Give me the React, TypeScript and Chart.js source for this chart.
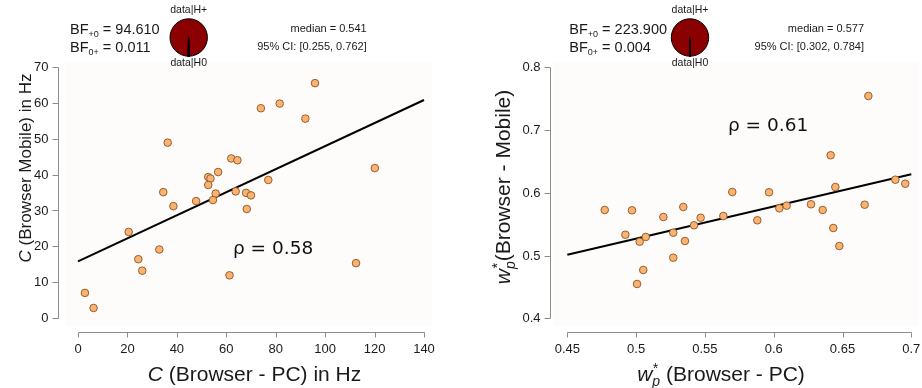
import React, { useEffect, useRef } from "react";
import { Chart, registerables } from "chart.js";

Chart.register(...registerables);

// ---- Cut-off frequency C (Hz): PC browser vs mobile browser ----
const pcC = [2.8, 6.3, 20.5, 24.4, 26.0, 32.9, 34.5, 36.3, 38.6, 47.8, 52.7, 53.6, 52.7, 55.7, 54.6, 56.7, 61.3, 62.0, 64.5, 63.8, 68.0, 70.0, 68.3, 77.0, 74.0, 81.6, 92.0, 95.9, 120.1, 112.5];
const mobileC = [7.0, 2.8, 24.0, 16.4, 13.2, 19.1, 35.1, 48.9, 31.2, 32.6, 39.3, 38.9, 37.1, 34.7, 32.9, 40.7, 11.9, 44.5, 44.0, 35.3, 34.9, 34.2, 30.4, 38.5, 58.5, 59.8, 55.6, 65.5, 41.8, 15.3];
const cFitX = [0, 140];
const cFitY = [15.8, 60.8];
const cTicksX = [0, 20, 40, 60, 80, 100, 120, 140];
const cTicksY = [0, 10, 20, 30, 40, 50, 60, 70];

// ---- Weight w*_p: PC browser vs mobile browser ----
const pcW = [0.4772, 0.4970, 0.4922, 0.5026, 0.5070, 0.5052, 0.5007, 0.5198, 0.5270, 0.5270, 0.5343, 0.5355, 0.5421, 0.5469, 0.5634, 0.5699, 0.5881, 0.5966, 0.6041, 0.6094, 0.6271, 0.6356, 0.6414, 0.6448, 0.6433, 0.6477, 0.6661, 0.6688, 0.6884, 0.6956];
const mobileW = [0.5726, 0.5721, 0.5332, 0.5221, 0.5296, 0.4770, 0.4547, 0.5614, 0.5364, 0.4966, 0.5774, 0.5232, 0.5482, 0.5603, 0.5630, 0.6013, 0.5562, 0.6008, 0.5753, 0.5795, 0.5817, 0.5726, 0.6598, 0.6092, 0.5439, 0.5152, 0.5810, 0.7543, 0.6209, 0.6145];
const wFitX = [0.45, 0.7];
const wFitY = [0.5014, 0.6295];
const wTicksX = [0.45, 0.5, 0.55, 0.6, 0.65, 0.7];
const wTickLabelsX = ["0.45", "0.5", "0.55", "0.6", "0.65", "0.7"];
const wTicksY = [0.4, 0.5, 0.6, 0.7, 0.8];
const wTickLabelsY = ["0.4", "0.5", "0.6", "0.7", "0.8"];

// ---- Bayesian correlation summaries ----
const bfC = [94.61, 0.011];
const rhoC = 0.58;
const medianC = 0.541;
const ciC = [0.255, 0.762];

const bfW = [223.9, 0.004];
const rhoW = 0.61;
const medianW = 0.577;
const ciW = [0.302, 0.784];

const SANS = '"Liberation Sans", Arial, Helvetica, sans-serif';
const DEJAVU = '"DejaVu Sans", sans-serif';
const INK = "#1a1a1a";
const AXIS = "#8c8c8c";

type Seg = { t: string; size: number; italic?: boolean; dy?: number; noAdvance?: boolean; family?: string };

function drawRich(ctx: CanvasRenderingContext2D, segs: Seg[], x: number, baseline: number, align: "left" | "center" | "right") {
  const font = (s: Seg) => `${s.italic ? "italic " : ""}${s.size}px ${s.family || SANS}`;
  let total = 0;
  segs.forEach((s) => {
    ctx.font = font(s);
    if (!s.noAdvance) total += ctx.measureText(s.t).width;
  });
  let cx = align === "left" ? x : align === "center" ? x - total / 2 : x - total;
  ctx.textAlign = "left";
  ctx.textBaseline = "alphabetic";
  segs.forEach((s) => {
    ctx.font = font(s);
    ctx.fillText(s.t, cx, baseline + (s.dy || 0));
    if (!s.noAdvance) cx += ctx.measureText(s.t).width;
  });
}

type Decor = {
  panel: [number, number, number, number];
  yAxisX: number;
  xAxisY: number;
  xTicks: number[];
  xLabels: string[];
  yTicks: number[];
  yLabels: string[];
  bf: number[];
  bfDigits: number;
  bfX: number;
  pieX: number;
  statRight: number;
  median: number;
  ci: number[];
  rho: number;
  rhoX: number;
  rhoY: number;
  xTitle: Seg[];
  xTitleX: number;
  yTitle: Seg[];
  yTitleX: number;
  yTitleY: number;
};

const decorPlugin = {
  id: "decor",
  beforeDatasetsDraw(chart: any, _a: any, opts: Decor) {
    const ctx = chart.ctx as CanvasRenderingContext2D;
    const [x0, y0, x1, y1] = opts.panel;
    ctx.save();
    ctx.fillStyle = "#fdfcfa";
    ctx.fillRect(x0, y0, x1 - x0, y1 - y0);
    ctx.restore();
  },
  afterDraw(chart: any, _a: any, opts: Decor) {
    const ctx = chart.ctx as CanvasRenderingContext2D;
    const xs = chart.scales.x;
    const ys = chart.scales.y;
    ctx.save();

    // axes: lines span first to last tick, offset from the panel
    ctx.strokeStyle = AXIS;
    ctx.lineWidth = 1;
    const yTop = ys.getPixelForValue(opts.yTicks[opts.yTicks.length - 1]);
    const yBot = ys.getPixelForValue(opts.yTicks[0]);
    ctx.beginPath();
    ctx.moveTo(opts.yAxisX, Math.round(yTop) + 0.5);
    ctx.lineTo(opts.yAxisX, Math.round(yBot) + 0.5);
    opts.yTicks.forEach((v) => {
      const p = Math.round(ys.getPixelForValue(v)) + 0.5;
      ctx.moveTo(opts.yAxisX, p);
      ctx.lineTo(opts.yAxisX - 6, p);
    });
    const xL = xs.getPixelForValue(opts.xTicks[0]);
    const xR = xs.getPixelForValue(opts.xTicks[opts.xTicks.length - 1]);
    ctx.moveTo(Math.round(xL) + 0.5, opts.xAxisY);
    ctx.lineTo(Math.round(xR) + 0.5, opts.xAxisY);
    opts.xTicks.forEach((v) => {
      const p = Math.round(xs.getPixelForValue(v)) + 0.5;
      ctx.moveTo(p, opts.xAxisY);
      ctx.lineTo(p, opts.xAxisY + 5);
    });
    ctx.stroke();

    ctx.fillStyle = INK;
    ctx.font = `13px ${SANS}`;
    ctx.textAlign = "right";
    ctx.textBaseline = "middle";
    opts.yTicks.forEach((v, i) => {
      ctx.fillText(opts.yLabels[i], opts.yAxisX - 10, ys.getPixelForValue(v) + 0.5);
    });
    ctx.textAlign = "center";
    opts.xTicks.forEach((v, i) => {
      ctx.fillText(opts.xLabels[i], xs.getPixelForValue(v), 349.5);
    });

    // axis titles
    drawRich(ctx, opts.xTitle, opts.xTitleX, 381, "center");
    ctx.save();
    ctx.translate(opts.yTitleX, opts.yTitleY);
    ctx.rotate(-Math.PI / 2);
    drawRich(ctx, opts.yTitle, 0, 7, "center");
    ctx.restore();

    // Bayes factors
    const bfS = 14.5;
    const subS = 9;
    drawRich(ctx, [
      { t: "BF", size: bfS },
      { t: "+0", size: subS, dy: 3 },
      { t: " = " + opts.bf[0].toFixed(opts.bfDigits), size: bfS },
    ], opts.bfX, 33.5, "left");
    drawRich(ctx, [
      { t: "BF", size: bfS },
      { t: "0+", size: subS, dy: 3 },
      { t: " = " + opts.bf[1].toFixed(opts.bfDigits), size: bfS },
    ], opts.bfX, 52, "left");

    // probability wheel
    const cy = 37.5;
    const r = 18.7;
    const shareH0 = 1 / (1 + opts.bf[0]);
    const half = Math.PI * shareH0;
    ctx.beginPath();
    ctx.arc(opts.pieX, cy, r, 0, Math.PI * 2);
    ctx.fillStyle = "#8b0000";
    ctx.fill();
    ctx.strokeStyle = "#000";
    ctx.lineWidth = 1;
    ctx.stroke();
    ctx.beginPath();
    ctx.moveTo(opts.pieX, cy);
    ctx.arc(opts.pieX, cy, r, Math.PI / 2 - half, Math.PI / 2 + half);
    ctx.closePath();
    ctx.fillStyle = "#ffffff";
    ctx.fill();
    ctx.lineWidth = 1.6;
    ctx.stroke();

    ctx.fillStyle = INK;
    ctx.font = `10.5px ${SANS}`;
    ctx.textAlign = "center";
    ctx.textBaseline = "middle";
    ctx.fillText("data|H+", opts.pieX, 10.5);
    ctx.fillText("data|H0", opts.pieX, 63.5);

    ctx.font = `11px ${SANS}`;
    ctx.textAlign = "right";
    ctx.fillText(`median = ${opts.median.toFixed(3)}`, opts.statRight, 28.5);
    ctx.fillText(`95% CI: [${opts.ci[0].toFixed(3)}, ${opts.ci[1].toFixed(3)}]`, opts.statRight, 47);

    // correlation label
    ctx.font = `18.5px ${DEJAVU}`;
    ctx.textAlign = "left";
    ctx.fillStyle = "#111";
    ctx.fillText(`ρ = ${opts.rho.toFixed(2)}`, opts.rhoX, opts.rhoY);

    ctx.restore();
  },
};

type PanelProps = {
  left: number;
  xs: number[];
  ys: number[];
  fitX: number[];
  fitY: number[];
  xMin: number;
  xMax: number;
  yMin: number;
  yMax: number;
  padding: { left: number; right: number; top: number; bottom: number };
  decor: Decor;
};

function Panel(p: PanelProps) {
  const ref = useRef<HTMLCanvasElement | null>(null);
  useEffect(() => {
    if (!ref.current) return;
    const chart = new Chart(ref.current, {
      type: "scatter",
      data: {
        datasets: [
          {
            data: p.xs.map((x, i) => ({ x, y: p.ys[i] })),
            pointRadius: 3.8,
            pointBackgroundColor: "#f9b26f",
            pointBorderColor: "#8a5526",
            pointBorderWidth: 0.9,
            showLine: false,
            clip: false,
            order: 1,
          } as any,
          {
            data: p.fitX.map((x, i) => ({ x, y: p.fitY[i] })),
            showLine: true,
            pointRadius: 0,
            borderColor: "#000",
            borderWidth: 2,
            clip: false,
            order: 2,
          } as any,
        ],
      },
      options: {
        animation: false,
        responsive: false,
        maintainAspectRatio: false,
        events: [],
        layout: { padding: p.padding },
        scales: {
          x: { type: "linear", min: p.xMin, max: p.xMax, display: false },
          y: { type: "linear", min: p.yMin, max: p.yMax, display: false },
        },
        plugins: {
          legend: { display: false },
          tooltip: { enabled: false },
          decor: p.decor,
        } as any,
      },
      plugins: [decorPlugin as any],
    });
    return () => chart.destroy();
  }, []);
  return (
    <canvas
      ref={ref}
      width={461}
      height={388}
      style={{ position: "absolute", left: p.left, top: 0, width: 461, height: 388 }}
    />
  );
}

export default function App() {
  const fmt = (v: number) => String(v);
  const cDecor: Decor = {
    panel: [65, 62, 432, 326],
    yAxisX: 58.5,
    xAxisY: 332.5,
    xTicks: cTicksX,
    xLabels: cTicksX.map(fmt),
    yTicks: cTicksY,
    yLabels: cTicksY.map(fmt),
    bf: bfC,
    bfDigits: 3,
    bfX: 70,
    pieX: 188.7,
    statRight: 366.7,
    median: medianC,
    ci: ciC,
    rho: rhoC,
    rhoX: 233,
    rhoY: 249.5,
    xTitle: [
      { t: "C", size: 21, italic: true },
      { t: " (Browser - PC) in Hz", size: 21 },
    ],
    xTitleX: 254.5,
    yTitle: [
      { t: "C", size: 17, italic: true },
      { t: " (Browser Mobile) in Hz", size: 17 },
    ],
    yTitleX: 24,
    yTitleY: 168,
  };
  const wDecor: Decor = {
    panel: [92, 62, 458, 326],
    yAxisX: 89.5,
    xAxisY: 332.5,
    xTicks: wTicksX,
    xLabels: wTickLabelsX,
    yTicks: wTicksY,
    yLabels: wTickLabelsY,
    bf: bfW,
    bfDigits: 3,
    bfX: 108.3,
    pieX: 229,
    statRight: 403,
    median: medianW,
    ci: ciW,
    rho: rhoW,
    rhoX: 267,
    rhoY: 126,
    xTitle: [
      { t: "w", size: 21, italic: true },
      { t: "*", size: 14, italic: true, dy: -8, noAdvance: true },
      { t: "p", size: 14, italic: true, dy: 5 },
      { t: " (Browser - PC)", size: 21 },
    ],
    xTitleX: 260,
    yTitle: [
      { t: "w", size: 21, italic: true },
      { t: "*", size: 14, italic: true, dy: -8, noAdvance: true },
      { t: "p", size: 14, italic: true, dy: 5 },
      { t: "(Browser - Mobile)", size: 21 },
    ],
    yTitleX: 42,
    yTitleY: 187,
  };

  return (
    <div style={{ position: "absolute", left: 0, top: 0, width: 922, height: 388, background: "#fff" }}>
      <Panel
        left={0}
        xs={pcC}
        ys={mobileC}
        fitX={cFitX}
        fitY={cFitY}
        xMin={0}
        xMax={140}
        yMin={0}
        yMax={70}
        padding={{ left: 78, right: 37, top: 67, bottom: 70 }}
        decor={cDecor}
      />
      <Panel
        left={461}
        xs={pcW}
        ys={mobileW}
        fitX={wFitX}
        fitY={wFitY}
        xMin={0.45}
        xMax={0.7}
        yMin={0.4}
        yMax={0.8}
        padding={{ left: 106.3, right: 10.7, top: 67.3, bottom: 69.7 }}
        decor={wDecor}
      />
    </div>
  );
}
